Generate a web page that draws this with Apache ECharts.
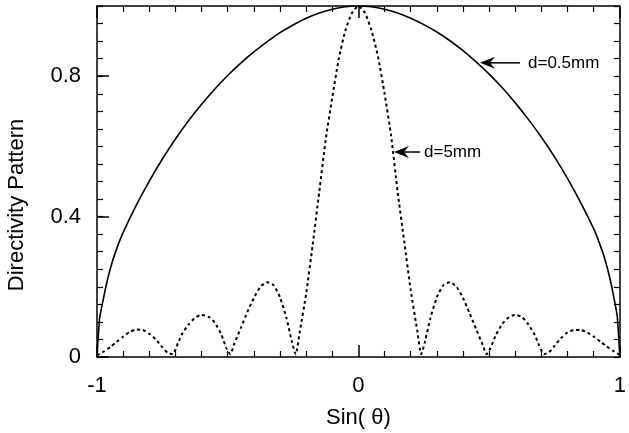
<!DOCTYPE html>
<html><head><meta charset="utf-8">
<script src="https://cdn.jsdelivr.net/npm/echarts@6/dist/echarts.min.js"></script>
<style>html,body{margin:0;padding:0;background:#fff}#c{width:629px;height:433px}</style>
</head><body><div id="c"></div>
<script>
// ---- data ----
const xTitle = 'Sin( θ)';
const yTitle = 'Directivity Pattern';
const xTickLabels = ['-1', '0', '1'];
const yTickLabels = ['0', '0.4', '0.8'];
const seriesNames = ['d=0.5mm', 'd=5mm'];

const solidX = [-1, -0.99, -0.98, -0.96, -0.94, -0.92, -0.9, -0.85, -0.8, -0.75, -0.7, -0.65, -0.6, -0.55, -0.5, -0.45, -0.4, -0.35, -0.3, -0.25, -0.2, -0.15, -0.1, -0.05, 0,
  0.05, 0.1, 0.15, 0.2, 0.25, 0.3, 0.35, 0.4, 0.45, 0.5, 0.55, 0.6, 0.65, 0.7, 0.75, 0.8, 0.85, 0.9, 0.92, 0.94, 0.96, 0.98, 0.99, 1];
const solidY = [0, 0.11, 0.15, 0.22, 0.275, 0.318, 0.355, 0.432, 0.501, 0.564, 0.621, 0.673, 0.72, 0.763, 0.802, 0.837, 0.869, 0.898, 0.924, 0.946, 0.965, 0.98, 0.991, 0.998, 1.0,
  0.998, 0.991, 0.98, 0.965, 0.947, 0.926, 0.901, 0.873, 0.841, 0.806, 0.767, 0.724, 0.677, 0.626, 0.57, 0.508, 0.44, 0.365, 0.328, 0.285, 0.23, 0.158, 0.115, 0];

const dottedX = [-1, -0.975, -0.95, -0.925, -0.9, -0.875, -0.85, -0.825, -0.8, -0.775, -0.75, -0.73, -0.71, -0.69, -0.675, -0.65, -0.625, -0.6, -0.575, -0.55, -0.525, -0.505, -0.49,
  -0.475, -0.45, -0.425, -0.4, -0.375, -0.35, -0.325, -0.3, -0.275, -0.255, -0.24, -0.225, -0.2, -0.175, -0.15, -0.125, -0.1, -0.075, -0.05, -0.025, 0,
  0.025, 0.05, 0.075, 0.1, 0.125, 0.15, 0.175, 0.2, 0.225, 0.24, 0.255, 0.275, 0.3, 0.325, 0.35, 0.375, 0.4, 0.425, 0.45, 0.475, 0.49,
  0.505, 0.525, 0.55, 0.575, 0.6, 0.625, 0.65, 0.675, 0.69, 0.71, 0.73, 0.75, 0.775, 0.8, 0.825, 0.85, 0.875, 0.9, 0.925, 0.95, 0.975, 1];
const dottedY = [0.005, 0.015, 0.028, 0.043, 0.058, 0.071, 0.078, 0.077, 0.066, 0.05, 0.028, 0.012, 0.008, 0.04, 0.065, 0.092, 0.112, 0.12, 0.115, 0.098, 0.065, 0.025, 0.008,
  0.038, 0.082, 0.128, 0.168, 0.2, 0.213, 0.205, 0.17, 0.11, 0.045, 0.008, 0.07, 0.18, 0.32, 0.47, 0.62, 0.74, 0.85, 0.93, 0.98, 1.0,
  0.98, 0.93, 0.855, 0.75, 0.63, 0.47, 0.33, 0.19, 0.075, 0.008, 0.045, 0.11, 0.17, 0.205, 0.213, 0.2, 0.168, 0.125, 0.08, 0.035, 0.008,
  0.025, 0.062, 0.094, 0.113, 0.12, 0.114, 0.093, 0.062, 0.035, 0.008, 0.014, 0.032, 0.054, 0.07, 0.077, 0.077, 0.07, 0.058, 0.044, 0.03, 0.017, 0.006];

// annotation arrow tips (data coordinates)
const annot05 = [0.465, 0.838];
const annot5 = [0.136, 0.584];

// ---- chart ----
const FONT = 'Liberation Sans, Arial, sans-serif';
const chart = echarts.init(document.getElementById('c'), null, {renderer: 'canvas'});
const zip = (xs, ys) => xs.map((x, i) => [x, ys[i]]);
const labelSet = (arr) => (v) => { const s = String(Math.round(v * 10) / 10); return arr.includes(s) ? s : ''; };

const baseX = {type: 'value', min: -1, max: 1, splitLine: {show: false}};
const baseY = {type: 'value', min: 0, max: 1, splitLine: {show: false}};
const lineS = {show: true, onZero: false, lineStyle: {color: '#000', width: 1.5}};

chart.setOption({
  animation: false,
  backgroundColor: '#fff',
  grid: {left: 97, right: 2, top: 6, bottom: 76, containLabel: false},
  xAxis: [
    Object.assign({}, baseX, {position: 'bottom', interval: 1, axisLine: lineS,
      axisTick: {inside: true, length: 12, lineStyle: {color: '#000', width: 1.5}},
      minorTick: {show: true, splitNumber: 10, length: 6, lineStyle: {color: '#000', width: 1.2}},
      axisLabel: {color: '#000', fontFamily: FONT, fontSize: 22, margin: 18, formatter: labelSet(xTickLabels)}}),
    Object.assign({}, baseX, {position: 'top', interval: 1, axisLine: lineS,
      axisTick: {inside: true, length: 12, lineStyle: {color: '#000', width: 1.5}},
      minorTick: {show: true, splitNumber: 10, length: 6, lineStyle: {color: '#000', width: 1.2}},
      axisLabel: {show: false}})
  ],
  yAxis: [
    Object.assign({}, baseY, {position: 'left', interval: 0.4, axisLine: lineS,
      axisTick: {inside: true, length: 12, lineStyle: {color: '#000', width: 1.5}},
      axisLabel: {color: '#000', fontFamily: FONT, fontSize: 22, margin: 16, showMaxLabel: false, formatter: labelSet(yTickLabels)}}),
    Object.assign({}, baseY, {position: 'left', interval: 0.05, axisLine: {show: false, onZero: false},
      axisTick: {inside: true, length: 6, lineStyle: {color: '#000', width: 1.2}},
      axisLabel: {show: false}}),
    Object.assign({}, baseY, {position: 'right', interval: 0.05, axisLine: lineS,
      axisTick: {inside: true, length: 6, lineStyle: {color: '#000', width: 1.2}},
      axisLabel: {show: false}})
  ],
  series: [
    {name: seriesNames[0], type: 'line', xAxisIndex: 0, yAxisIndex: 0, data: zip(solidX, solidY),
      showSymbol: false, smooth: 0.2, lineStyle: {color: '#000', width: 1.6}},
    {name: seriesNames[1], type: 'line', xAxisIndex: 0, yAxisIndex: 0, data: zip(dottedX, dottedY),
      showSymbol: false, smooth: 0.2, lineStyle: {color: '#000', width: 2, type: [3, 3]}}
  ]
});

function arrow(tip, lineLen, gap, label) {
  const p = chart.convertToPixel({xAxisIndex: 0, yAxisIndex: 0}, tip);
  const tx = p[0], ty = p[1];
  return [
    {type: 'polygon', shape: {points: [[tx, ty], [tx + 15, ty - 6], [tx + 10, ty], [tx + 15, ty + 6]]}, style: {fill: '#000'}},
    {type: 'line', shape: {x1: tx + 10, y1: ty, x2: tx + lineLen, y2: ty}, style: {stroke: '#000', lineWidth: 1.5}},
    {type: 'text', x: tx + lineLen + gap, y: ty, style: {text: label, fill: '#000', font: '17px ' + FONT, textVerticalAlign: 'middle', verticalAlign: 'middle'}}
  ];
}

const gp = chart.convertToPixel({xAxisIndex: 0, yAxisIndex: 0}, [0, 0]);
chart.setOption({
  graphic: [].concat(
    arrow(annot05, 40, 8, seriesNames[0]),
    arrow(annot5, 26, 4, seriesNames[1]),
    [
      {type: 'text', x: gp[0], y: 418, style: {text: xTitle, fill: '#000', font: '22px ' + FONT, align: 'center', textAlign: 'center', verticalAlign: 'middle', textVerticalAlign: 'middle'}},
      {type: 'text', x: 17, y: 205, rotation: Math.PI / 2, style: {text: yTitle, fill: '#000', font: '22px ' + FONT, align: 'center', textAlign: 'center', verticalAlign: 'middle', textVerticalAlign: 'middle'}}
    ])
});
</script></body></html>
